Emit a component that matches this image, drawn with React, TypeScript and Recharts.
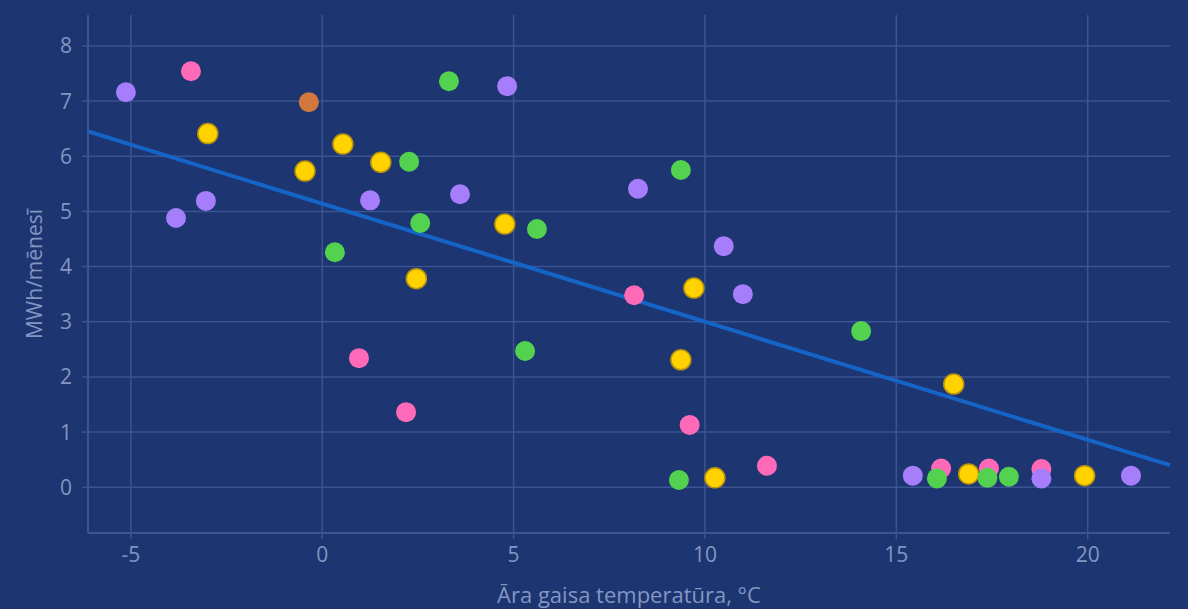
import React from "react";
import {
  ScatterChart,
  Scatter,
  XAxis,
  YAxis,
  ReferenceLine,
} from "recharts";

// Outdoor temperature (°C) vs. monthly consumption (MWh/month), grouped by colour series
const pinkX = [-3.43, 0.96, 2.19, 8.15, 9.6, 11.62, 16.17, 17.42, 18.79];
const pinkY = [7.54, 2.34, 1.36, 3.48, 1.13, 0.39, 0.34, 0.34, 0.33];

const yellowX = [-2.99, -0.45, 0.54, 1.53, 4.77, 2.46, 9.71, 9.37, 10.26, 16.5, 16.89, 19.92];
const yellowY = [6.41, 5.73, 6.22, 5.89, 4.77, 3.78, 3.61, 2.31, 0.17, 1.87, 0.24, 0.21];

const greenX = [0.33, 2.27, 3.31, 2.56, 5.61, 5.3, 9.37, 9.32, 14.08, 16.06, 17.38, 17.94];
const greenY = [4.26, 5.9, 7.36, 4.79, 4.68, 2.47, 5.75, 0.13, 2.83, 0.16, 0.17, 0.19];

const purpleX = [-5.13, -3.82, -3.04, 1.25, 4.83, 3.6, 8.25, 10.49, 10.99, 15.43, 18.79, 21.13];
const purpleY = [7.16, 4.88, 5.19, 5.2, 7.27, 5.31, 5.41, 4.37, 3.5, 0.21, 0.16, 0.21];

const orangeX = [-0.35];
const orangeY = [6.98];

// Linear trend line endpoints
const trendX = [-6.12, 22.15];
const trendY = [6.45, 0.4];

const xTicks = [-5, 0, 5, 10, 15, 20];
const yTicks = [0, 1, 2, 3, 4, 5, 6, 7, 8];
const xDomain = [-6.12, 22.15];
const yDomain = [-0.83, 8.56];

const xTitle = "Āra gaisa temperatūra, °C";
const yTitle = "MWh/mēnesī";

const zip = (xs: number[], ys: number[]) => xs.map((x, i) => ({ x, y: ys[i] }));

const BG = "#1d3570";
const GRID = "#3b5592";
const TEXT = "#8396c3";
const FONT = "'Open Sans', 'Noto Sans', sans-serif";

const dot =
  (fill: string, stroke?: string) =>
  (props: any) =>
    (
      <circle
        cx={props.cx}
        cy={props.cy}
        r={10}
        fill={fill}
        stroke={stroke || "none"}
        strokeWidth={stroke ? 1.5 : 0}
      />
    );

export default function App() {
  return (
    <div
      style={{
        position: "absolute",
        left: 0,
        top: 0,
        width: 1188,
        height: 609,
        background: BG,
        fontFamily: FONT,
      }}
    >
      <ScatterChart
        width={1188}
        height={609}
        margin={{ top: 15, right: 18, bottom: 0, left: 8 }}
      >
        <XAxis
          type="number"
          dataKey="x"
          domain={xDomain}
          ticks={xTicks}
          allowDataOverflow
          height={76}
          axisLine={{ stroke: GRID, strokeWidth: 2 }}
          tickLine={{ stroke: GRID, strokeWidth: 1.5 }}
          tickSize={6}
          tickMargin={8}
          tick={{ fill: TEXT, fontSize: 21, fontFamily: FONT }}
          label={{
            value: xTitle,
            position: "insideBottom",
            offset: 6,
            fill: TEXT,
            fontSize: 22,
            fontFamily: FONT,
          }}
        />
        <YAxis
          type="number"
          dataKey="y"
          domain={yDomain}
          ticks={yTicks}
          allowDataOverflow
          width={80}
          axisLine={{ stroke: GRID, strokeWidth: 2 }}
          tickLine={{ stroke: GRID, strokeWidth: 1.5 }}
          tickSize={6}
          tickMargin={10}
          tick={{ fill: TEXT, fontSize: 21, fontFamily: FONT }}
          label={{
            content: (p: any) => {
              const vb = p.viewBox || { x: 8, y: 15, width: 80, height: 518 };
              const cx = vb.x + 34;
              const cy = vb.y + vb.height / 2;
              return (
                <text
                  x={cx}
                  y={cy}
                  transform={`rotate(-90, ${cx}, ${cy})`}
                  textAnchor="middle"
                  fill={TEXT}
                  fontSize={21}
                  fontFamily={FONT}
                >
                  {yTitle}
                </text>
              );
            },
          }}
        />
        {yTicks.map((t) => (
          <ReferenceLine key={"gy" + t} y={t} stroke={GRID} strokeWidth={1.5} />
        ))}
        {xTicks.map((t) => (
          <ReferenceLine key={"gx" + t} x={t} stroke={GRID} strokeWidth={1.5} />
        ))}
        <ReferenceLine
          segment={[
            { x: trendX[0], y: trendY[0] },
            { x: trendX[1], y: trendY[1] },
          ]}
          stroke="#1565c8"
          strokeWidth={4}
        />
        <Scatter data={zip(pinkX, pinkY)} shape={dot("#ff6ab8")} isAnimationActive={false} />
        <Scatter data={zip(yellowX, yellowY)} shape={dot("#ffd200", "#b9940c")} isAnimationActive={false} />
        <Scatter data={zip(greenX, greenY)} shape={dot("#52d24f")} isAnimationActive={false} />
        <Scatter data={zip(purpleX, purpleY)} shape={dot("#a67dfa")} isAnimationActive={false} />
        <Scatter data={zip(orangeX, orangeY)} shape={dot("#d2783f")} isAnimationActive={false} />
      </ScatterChart>
    </div>
  );
}
